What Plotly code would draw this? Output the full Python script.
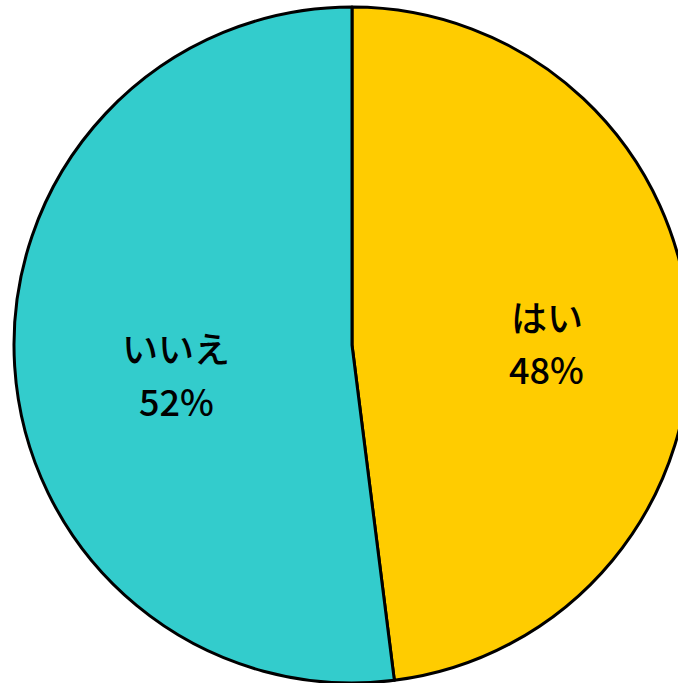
import plotly.graph_objects as go

labels = ["はい", "いいえ"]
values = [48, 52]
colors = ["#FFCC00", "#33CCCC"]
label_pos = [(555, 312, 365), (169, 344, 397)]  # x, label y, percent y (pixels)

W, H = 704, 683
fig = go.Figure(go.Pie(
    labels=labels,
    values=values,
    sort=False,
    direction="clockwise",
    rotation=0,
    marker=dict(colors=colors, line=dict(color="black", width=3)),
    textinfo="none",
    showlegend=False,
    hoverinfo="skip",
))
total = sum(values)
font = dict(family="Noto Sans CJK JP Medium, Noto Sans CJK JP", size=36, color="black")
for lab, val, (x, y1, y2) in zip(labels, values, label_pos):
    pct = f"{round(100 * val / total)}%"
    for txt, y in ((lab, y1), (pct, y2)):
        fig.add_annotation(text=txt, x=x / W, y=1 - y / H, xref="paper", yref="paper",
                           xanchor="center", yanchor="middle", showarrow=False, font=font)
fig.update_layout(
    width=W, height=H,
    margin=dict(l=14, r=14, t=7, b=0),
    paper_bgcolor="white",
)
fig.write_html("out.html", config={"displayModeBar": False},
               post_script="document.body.style.overflow='hidden';document.body.style.margin='0';")
